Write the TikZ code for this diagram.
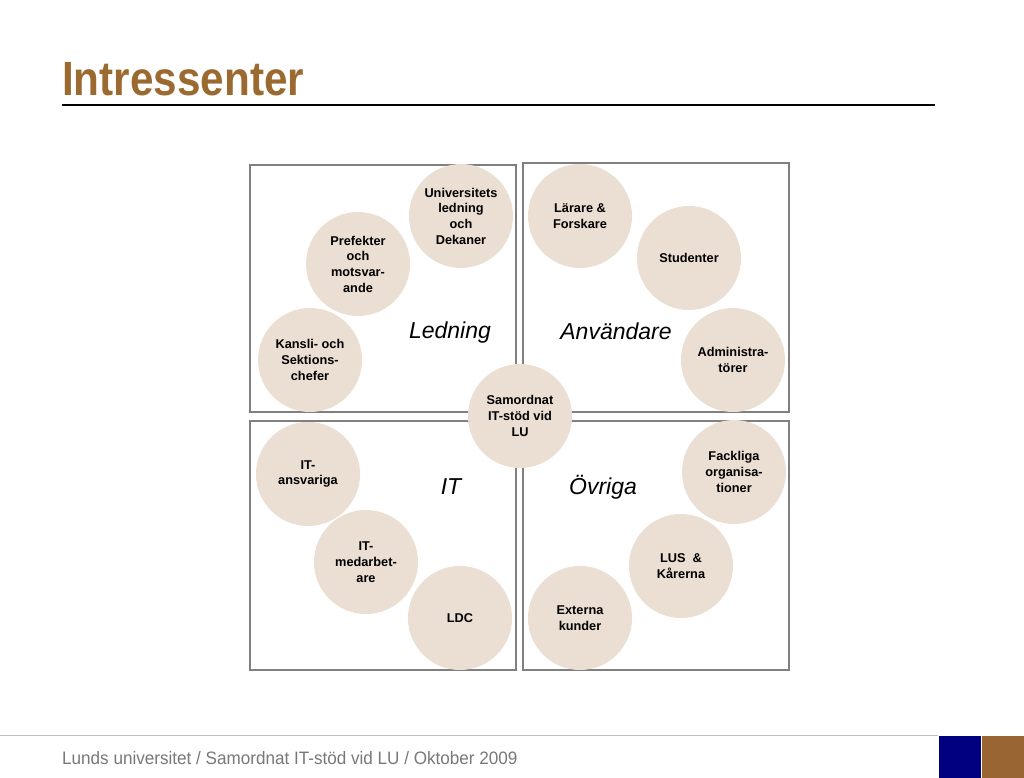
\documentclass[tikz,border=0pt]{standalone}
\usepackage{fontspec}
\setmainfont{Liberation Sans}
\definecolor{titlebrown}{RGB}{155,106,48}
\definecolor{circfill}{RGB}{235,222,210}
\definecolor{boxgray}{RGB}{128,128,128}
\definecolor{footgray}{RGB}{120,120,120}
\definecolor{navyblk}{RGB}{0,0,128}
\definecolor{brownblk}{RGB}{153,102,51}
\begin{document}
\begin{tikzpicture}[x=1pt,y=-1pt,
  bubble/.style={circle,fill=circfill,minimum size=104pt,inner sep=0pt,align=center,
    font=\bfseries\fontsize{12.75}{15.7}\selectfont},
  quad/.style={draw=boxgray,line width=1.3pt},
  grouplabel/.style={font=\itshape\fontsize{23}{27}\selectfont,inner sep=0pt}]
\useasboundingbox (0,0) rectangle (1024,778);
\fill[white] (0,0) rectangle (1024,778);
% title
\node[anchor=base west,inner sep=0pt,text=titlebrown] (title) at (62,96)
  {\scalebox{0.88}[1]{\fontsize{48}{52}\selectfont\bfseries Intressenter}};
\draw[line width=1.6pt] (62,105) coordinate (tl) -- (935,105) coordinate (tr);
% quadrants
\draw[quad] (250,165) rectangle (516,412);
\draw[quad] (523,163) rectangle (789,412);
\draw[quad] (250,421) rectangle (516,670);
\draw[quad] (523,421) rectangle (789,670);
% group labels
\node[grouplabel] (ledning) at (450,333) {Ledning};
\node[grouplabel] (anv) at (616,331) {Användare};
\node[grouplabel] (it) at (451,487) {IT};
\node[grouplabel] (ovr) at (603,487) {Övriga};
% bubbles
\node[bubble] (univ) at (461,216) {Universitets\\ledning\\och\\Dekaner};
\node[bubble] (pref) at (358,264) {Prefekter\\och\\motsvar-\\ande};
\node[bubble] (kansli) at (310,360) {Kansli- och\\Sektions-\\chefer};
\node[bubble] (larare) at (580,216) {Lärare \&\\Forskare};
\node[bubble] (stud) at (689,258) {Studenter};
\node[bubble] (admin) at (733,360) {Administra-\\törer};
\node[bubble] (samord) at (520,416) {Samordnat\\IT-stöd vid\\LU};
\node[bubble] (itansv) at (308,474) {IT-\\ansvariga};
\node[bubble] (itmed) at (366,562) {IT-\\medarbet-\\are};
\node[bubble] (ldc) at (460,618) {LDC};
\node[bubble] (fack) at (734,472) {Fackliga\\organisa-\\tioner};
\node[bubble] (lus) at (681,566) {LUS \ \&\\Kårerna};
\node[bubble] (ext) at (580,618) {Externa\\kunder};
% footer
\draw[line width=1pt,draw=black!25] (0,735) coordinate (fl) -- (938,735) coordinate (fr);
\node[anchor=base west,inner sep=0pt,text=footgray] (foot) at (62,764)
  {\scalebox{0.95}[1]{\fontsize{18}{21}\selectfont Lunds universitet / Samordnat IT-stöd vid LU / Oktober 2009}};
\fill[navyblk] (939,736) rectangle (981,778);
\fill[brownblk] (982,736) rectangle (1024,778);
\end{tikzpicture}
\end{document}
